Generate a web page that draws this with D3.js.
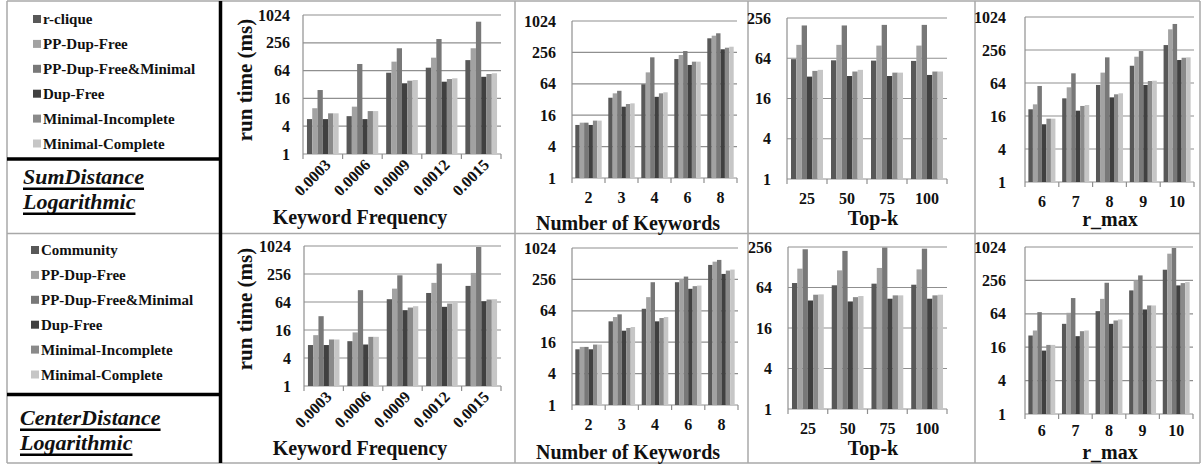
<!DOCTYPE html>
<html>
<head>
<meta charset="utf-8">
<script src="https://cdn.jsdelivr.net/npm/d3@7"></script>
<style>
  body { margin: 0; background: #fff; }
  svg { display: block; }
</style>
</head>
<body>
<svg id="chart" width="1201" height="465" font-family="'Liberation Serif', 'DejaVu Serif', 'Times New Roman', serif" font-weight="bold"></svg>
<script>
// series names
const sumSeries = ["r-clique", "PP-Dup-Free", "PP-Dup-Free&Minimal", "Dup-Free", "Minimal-Incomplete", "Minimal-Complete"];
const centerSeries = ["Community", "PP-Dup-Free", "PP-Dup-Free&Minimal", "Dup-Free", "Minimal-Incomplete", "Minimal-Complete"];
const seriesColors = ["#585858", "#a2a2a2", "#787878", "#404040", "#8a8a8a", "#c6c6c6"];

// categories
const freqCats = ["0.0003", "0.0006", "0.0009", "0.0012", "0.0015"];
const kwCats = ["2", "3", "4", "6", "8"];
const topkCats = ["25", "50", "75", "100"];
const rmaxCats = ["6", "7", "8", "9", "10"];

// y ticks (log2 axis)
const ticks1024 = [1, 4, 16, 64, 256, 1024];
const ticks256 = [1, 4, 16, 64, 256];

// run time (ms), one row per category, one column per series
const sumFreq = [
  [5.7, 9.8, 24.3, 5.7, 7.6, 7.6],
  [6.6, 10.6, 89, 5.7, 8.5, 8.5],
  [57.6, 100, 195, 34, 38.7, 40],
  [74, 122, 309, 36.8, 42, 43.6],
  [108, 195, 733, 47, 54, 56]
];
const sumKw = [
  [10.4, 11.5, 11.5, 10.4, 12.6, 12.6],
  [34.6, 42, 47, 23.3, 26.2, 27],
  [62.6, 106, 206, 36, 42, 44],
  [191, 228, 272, 147, 170, 170],
  [477, 535, 595, 294, 315, 329]
];
const sumTopk = [
  [62, 101.5, 198, 34, 41.4, 42.9],
  [59.6, 101.5, 198, 34.7, 40.5, 42.9],
  [59, 99, 202, 34.7, 39, 39],
  [58.4, 99, 202, 36, 40.5, 40.5]
];
const sumRmax = [
  [21.2, 26.1, 56.5, 11.3, 14.3, 14.3],
  [33.6, 53.4, 96, 20, 24.4, 25.4],
  [59, 99, 188, 35, 39.8, 41.5],
  [132, 193, 245, 59, 69.6, 70.5],
  [315, 610, 764, 168, 185, 188]
];
const centerFreq = [
  [7.6, 12.4, 31.7, 7.6, 10, 10],
  [9.2, 14.2, 115, 7.8, 11.4, 11.4],
  [73.5, 124, 240, 42.7, 48.6, 52],
  [100, 165, 428, 50.4, 59.3, 61.3],
  [142, 270, 975, 66.5, 72.3, 73.5]
];
const centerKw = [
  [11.7, 13, 13, 11.7, 14.4, 14.4],
  [40.2, 48.6, 54.7, 26.6, 30, 31.3],
  [70, 117, 226, 40.2, 46.5, 48.6],
  [226, 262, 290, 169, 190, 195],
  [485, 560, 605, 326, 378, 395]
];
const centerTopk = [
  [74.6, 122, 237, 41, 50, 50.6],
  [69, 115, 224, 39.7, 46, 47.8],
  [73, 125, 251, 43.6, 48.9, 48.9],
  [70.4, 119, 242, 43.6, 48.9, 50]
];
const centerRmax = [
  [26, 32, 68.6, 13.9, 17.6, 17.6],
  [42.2, 66.7, 123, 25.3, 31.1, 32],
  [71.5, 119, 232, 42.2, 48.5, 50.6],
  [169, 256, 315, 76.7, 90.5, 90.5],
  [399, 776, 982, 208, 229, 239]
];

const svg = d3.select('#chart');
const gridColor = '#8f8f8f';
const ink = '#111';

// frame
const frame = svg.append('g').attr('stroke', '#a8a8a8').attr('stroke-width', 1.5);
[[7, 1, 1200, 1], [7, 233.5, 1200, 233.5], [7, 463, 1200, 463], [7, 1, 7, 463], [1200, 1, 1200, 463],
 [515, 1, 515, 463], [748, 1, 748, 463], [975, 1, 975, 463]]
  .forEach(d => frame.append('line').attr('x1', d[0]).attr('y1', d[1]).attr('x2', d[2]).attr('y2', d[3]));
const thick = svg.append('g').attr('stroke', '#000').attr('stroke-width', 3.5);
[[220.5, 1, 220.5, 463], [7, 159, 220.5, 159], [7, 394.5, 220.5, 394.5]]
  .forEach(d => thick.append('line').attr('x1', d[0]).attr('y1', d[1]).attr('x2', d[2]).attr('y2', d[3]));

function drawLegend(names, x, y0) {
  const g = svg.append('g');
  names.forEach((n, i) => {
    const y = y0 + i * 24.9;
    g.append('rect').attr('x', x).attr('y', y - 4).attr('width', 8).attr('height', 8).attr('fill', seriesColors[i]);
    g.append('text').attr('x', x + 10).attr('y', y).attr('dy', '0.35em').attr('fill', ink)
      .style('font-size', '15px').text(n);
  });
}

function drawTitle(lines, x, baselines, underlines) {
  lines.forEach((t, i) => {
    const txt = svg.append('text').attr('x', x).attr('y', baselines[i]).attr('fill', ink)
      .style('font-size', '22px').style('font-style', 'italic').text(t);
    const w = txt.node().getComputedTextLength();
    svg.append('rect').attr('x', x).attr('y', underlines[i]).attr('width', w).attr('height', 2.5).attr('fill', '#000');
  });
}

function drawPanel(cats, values, b, yTicks, xLabel, rotate) {
  const g = svg.append('g');
  const x = d3.scaleBand().domain(cats).range([b.x0, b.x1]).paddingInner(0.2).paddingOuter(0.1);
  const xs = d3.scaleBand().domain(d3.range(6)).range([0, x.bandwidth()]);
  const y = d3.scaleLog().base(2).domain([1, d3.max(yTicks)]).range([b.yBot, b.yTop]);
  const step = (b.x1 - b.x0) / cats.length;

  g.selectAll('line.grid').data(yTicks).join('line')
    .attr('x1', b.x0).attr('x2', b.x1).attr('y1', d => y(d)).attr('y2', d => y(d))
    .attr('stroke', gridColor).attr('stroke-width', 1.2);
  g.append('line').attr('x1', b.x0).attr('x2', b.x0).attr('y1', b.yTop).attr('y2', b.yBot)
    .attr('stroke', gridColor).attr('stroke-width', 1.2);
  g.selectAll('line.tick').data(d3.range(cats.length + 1)).join('line')
    .attr('x1', d => b.x0 + d * step).attr('x2', d => b.x0 + d * step)
    .attr('y1', b.yBot).attr('y2', b.yBot + 5)
    .attr('stroke', gridColor).attr('stroke-width', 1.2);

  cats.forEach((c, ci) => {
    g.selectAll(null).data(values[ci]).join('rect')
      .attr('x', (v, i) => x(c) + xs(i)).attr('width', xs.bandwidth())
      .attr('y', v => y(v)).attr('height', v => b.yBot - y(v))
      .attr('fill', (v, i) => seriesColors[i]);
  });

  g.selectAll('text.ytick').data(yTicks).join('text')
    .attr('x', b.x0 - b.gap).attr('y', d => y(d)).attr('dy', '0.35em').attr('fill', ink)
    .attr('text-anchor', 'end').style('font-size', '16px').text(d => d);

  cats.forEach(c => {
    const cx = x(c) + x.bandwidth() / 2;
    if (rotate) {
      g.append('text').attr('transform', `translate(${cx + 5},${b.yBot + 8}) rotate(-45)`).attr('fill', ink)
        .attr('text-anchor', 'end').attr('dy', '0.35em').style('font-size', '16px').text(c);
    } else {
      g.append('text').attr('x', cx).attr('y', b.yBot + b.tickDy).attr('text-anchor', 'middle').attr('fill', ink)
        .style('font-size', '16px').text(c);
    }
  });

  g.append('text').attr('x', b.lx).attr('y', b.ly).attr('text-anchor', 'middle').attr('fill', ink)
    .style('font-size', '20px').text(xLabel);

  if (b.yLabel) {
    g.append('text').attr('transform', `translate(${b.yLabel[0]},${b.yLabel[1]}) rotate(-90)`).attr('fill', ink)
      .attr('text-anchor', 'middle').attr('dy', '0.35em').style('font-size', '21px').text('run time (ms)');
  }
}

// top row: SumDistance
drawLegend(sumSeries, 33, 19);
drawTitle(['SumDistance', 'Logarithmic'], 23, [184, 209], [187.5, 212.5]);
drawPanel(freqCats, sumFreq, {x0: 303, x1: 501, yTop: 15, yBot: 154, gap: 13, lx: 360, ly: 224, yLabel: [245, 80]}, ticks1024, 'Keyword Frequency', true);
drawPanel(kwCats, sumKw, {x0: 572, x1: 737, yTop: 21, yBot: 178, gap: 16, tickDy: 25, lx: 628, ly: 230}, ticks1024, 'Number of Keywords', false);
drawPanel(topkCats, sumTopk, {x0: 787, x1: 947, yTop: 18, yBot: 179, gap: 16, tickDy: 25, lx: 873, ly: 225}, ticks256, 'Top-k', false);
drawPanel(rmaxCats, sumRmax, {x0: 1025, x1: 1194, yTop: 17, yBot: 182, gap: 19, tickDy: 25, lx: 1110, ly: 226}, ticks1024, 'r_max', false);

// bottom row: CenterDistance
drawLegend(centerSeries, 31, 250);
drawTitle(['CenterDistance', 'Logarithmic'], 20, [425, 450], [428.5, 453.5]);
drawPanel(freqCats, centerFreq, {x0: 304, x1: 501, yTop: 246, yBot: 386, gap: 13, lx: 360, ly: 455, yLabel: [245, 309]}, ticks1024, 'Keyword Frequency', true);
drawPanel(kwCats, centerKw, {x0: 572, x1: 738, yTop: 248, yBot: 405, gap: 16, tickDy: 25, lx: 628, ly: 459}, ticks1024, 'Number of Keywords', false);
drawPanel(topkCats, centerTopk, {x0: 788, x1: 947, yTop: 247, yBot: 409, gap: 16, tickDy: 25, lx: 873, ly: 455}, ticks256, 'Top-k', false);
drawPanel(rmaxCats, centerRmax, {x0: 1025, x1: 1193, yTop: 247, yBot: 414, gap: 19, tickDy: 22, lx: 1110, ly: 459}, ticks1024, 'r_max', false);
</script>
</body>
</html>
